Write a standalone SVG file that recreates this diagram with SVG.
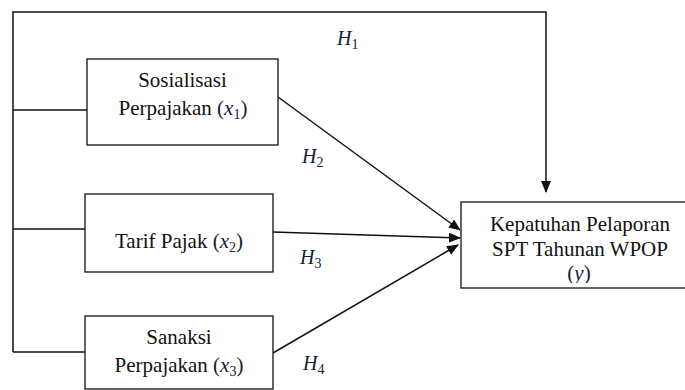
<svg xmlns="http://www.w3.org/2000/svg" width="685" height="390" viewBox="0 0 685 390">
<style>
.box{fill:#fff;stroke:#222;stroke-width:1.4}
.ln{fill:none;stroke:#111;stroke-width:1.5}
.t{font-family:"Liberation Serif","Times New Roman",serif;font-size:21px;fill:#111}
.m{font-family:"Liberation Serif","Times New Roman",serif;font-style:italic;fill:#14203a}
.p{font-family:"Liberation Serif","Times New Roman",serif;fill:#14203a}
.h{font-family:"Liberation Serif","Times New Roman",serif;font-size:20px;font-style:italic;fill:#14203a}
.s{font-size:14px;font-style:normal}
</style>
<defs>
<marker id="ah" markerWidth="12" markerHeight="10" refX="11" refY="5" orient="auto" markerUnits="userSpaceOnUse">
<path d="M0,0 L12,5 L0,10 Z" fill="#111"/>
</marker>
<clipPath id="yclip"><rect x="540" y="255" width="80" height="28"/></clipPath>
</defs>
<g id="connectors">
<path class="ln" d="M13,352 L13,12 L546,12 L546,192" marker-end="url(#ah)"/>
<line class="ln" x1="13" y1="110" x2="87" y2="110"/>
<line class="ln" x1="13" y1="229" x2="85" y2="229"/>
<line class="ln" x1="13" y1="352" x2="85" y2="352"/>
<line class="ln" x1="278" y1="97" x2="460" y2="230" marker-end="url(#ah)"/>
<line class="ln" x1="273" y1="232" x2="460" y2="238" marker-end="url(#ah)"/>
<line class="ln" x1="273" y1="353" x2="458" y2="245" marker-end="url(#ah)"/>
<text class="h" x="337" y="45">H<tspan class="s" dy="4">1</tspan></text>
<text class="h" x="302" y="163">H<tspan class="s" dy="4">2</tspan></text>
<text class="h" x="300" y="264">H<tspan class="s" dy="4">3</tspan></text>
<text class="h" x="303" y="370">H<tspan class="s" dy="4">4</tspan></text>
</g>
<g id="x1">
<rect class="box" x="87" y="59" width="191" height="86"/>
<text class="t" x="182.5" y="87" text-anchor="middle">Sosialisasi</text>
<text class="t" x="183" y="115" text-anchor="middle">Perpajakan <tspan class="p">(</tspan><tspan class="m">x</tspan><tspan class="p s" dy="4">1</tspan><tspan class="p" dy="-4">)</tspan></text>
</g>
<g id="x2">
<rect class="box" x="85" y="194" width="188" height="78"/>
<text class="t" x="179" y="248" text-anchor="middle">Tarif Pajak <tspan class="p">(</tspan><tspan class="m">x</tspan><tspan class="p s" dy="4">2</tspan><tspan class="p" dy="-4">)</tspan></text>
</g>
<g id="x3">
<rect class="box" x="85" y="316" width="188" height="73"/>
<text class="t" x="179" y="344" text-anchor="middle">Sanaksi</text>
<text class="t" x="179" y="372" text-anchor="middle">Perpajakan <tspan class="p">(</tspan><tspan class="m">x</tspan><tspan class="p s" dy="4">3</tspan><tspan class="p" dy="-4">)</tspan></text>
</g>
<g id="y">
<rect class="box" x="461" y="202" width="240" height="86"/>
<text class="t" x="580" y="231" text-anchor="middle">Kepatuhan Pelaporan</text>
<text class="t" x="580" y="256" text-anchor="middle">SPT Tahunan WPOP</text>
<text class="t" x="579" y="280" text-anchor="middle" clip-path="url(#yclip)"><tspan class="p">(</tspan><tspan class="m">y</tspan><tspan class="p">)</tspan></text>
</g>
</svg>
